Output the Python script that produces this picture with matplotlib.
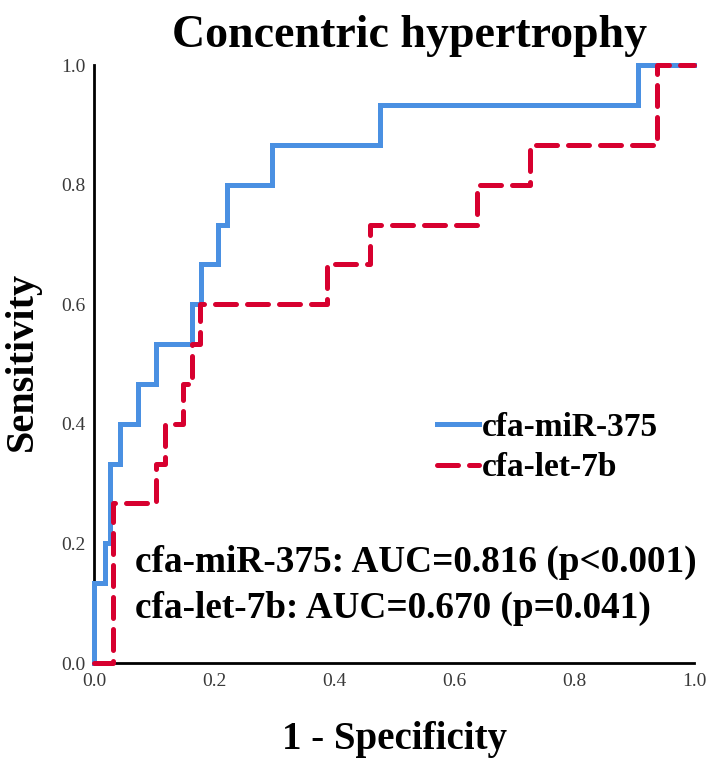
import matplotlib
matplotlib.use("Agg")
import matplotlib.pyplot as plt

# ROC points (1 - specificity, sensitivity)
mir375_fpr = [0, 0, 0.018, 0.027, 0.043, 0.074, 0.104, 0.163, 0.179, 0.207, 0.221, 0.296, 0.477, 0.907, 1.0]
mir375_tpr = [0, 0.133, 0.2, 0.333, 0.4, 0.467, 0.533, 0.6, 0.667, 0.733, 0.8, 0.867, 0.933, 1.0, 1.0]

let7b_fpr = [0, 0.032, 0.104, 0.118, 0.148, 0.163, 0.177, 0.388, 0.46, 0.638, 0.727, 0.938, 1.0]
let7b_tpr = [0, 0.267, 0.333, 0.4, 0.467, 0.533, 0.6, 0.667, 0.733, 0.8, 0.867, 1.0, 1.0]

ticks = [0.0, 0.2, 0.4, 0.6, 0.8, 1.0]
tick_labels = ['0.0', '0.2', '0.4', '0.6', '0.8', '1.0']
auc_lines = ['cfa-miR-375: AUC=0.816 (p<0.001)', 'cfa-let-7b: AUC=0.670 (p=0.041)']

serif = 'Liberation Serif'

fig = plt.figure(figsize=(7.09, 7.62), dpi=100)
ax = fig.add_axes([94 / 709, 99 / 762, 600 / 709, 598 / 762])

ax.step(mir375_fpr, mir375_tpr, where='post', color='#4A90E2', lw=3.6,
        solid_joinstyle='miter', clip_on=False, zorder=3, label='cfa-miR-375')
ax.step(let7b_fpr, let7b_tpr, where='post', color='#D7002F', lw=3.6,
        dashes=(4.2, 2.2), dash_capstyle='round', clip_on=False, zorder=4, label='cfa-let-7b')

ax.set_xlim(0, 1)
ax.set_ylim(0, 1)
ax.spines['top'].set_visible(False)
ax.spines['right'].set_visible(False)
ax.spines['left'].set_linewidth(2)
ax.spines['bottom'].set_linewidth(2)

ax.set_xticks(ticks)
ax.set_xticklabels(tick_labels)
ax.set_yticks(ticks)
ax.set_yticklabels(tick_labels)
ax.tick_params(length=0, labelsize=14, labelcolor='#3a3a3a')
ax.tick_params(axis='x', pad=7)
ax.tick_params(axis='y', pad=6)
for lab in ax.get_xticklabels() + ax.get_yticklabels():
    lab.set_family(serif)

ax.set_xlabel('1 - Specificity', fontsize=28, fontweight='bold', family=serif, va='center')
ax.xaxis.set_label_coords(0.5, -0.128)
ax.set_ylabel('Sensitivity', fontsize=29, fontweight='bold', family=serif, va='center')
ax.yaxis.set_label_coords(-0.12, 0.505)
fig.text(0.578, 1 - 47 / 762, 'Concentric hypertrophy', ha='center', va='baseline',
         fontsize=33, fontweight='bold', family=serif)

leg = ax.legend(loc='upper left', bbox_to_anchor=(0.572, 0.42), frameon=False,
                prop={'family': serif, 'weight': 'bold', 'size': 24},
                handlelength=1.26, handletextpad=0.08, labelspacing=0.28,
                borderpad=0, borderaxespad=0)

auc_y = [0.152, 0.075]
for txt, y in zip(auc_lines, auc_y):
    ax.text(0.068, y, txt, ha='left', va='baseline',
            fontsize=26.8, fontweight='bold', family=serif)

fig.savefig('out.png', dpi=100)
